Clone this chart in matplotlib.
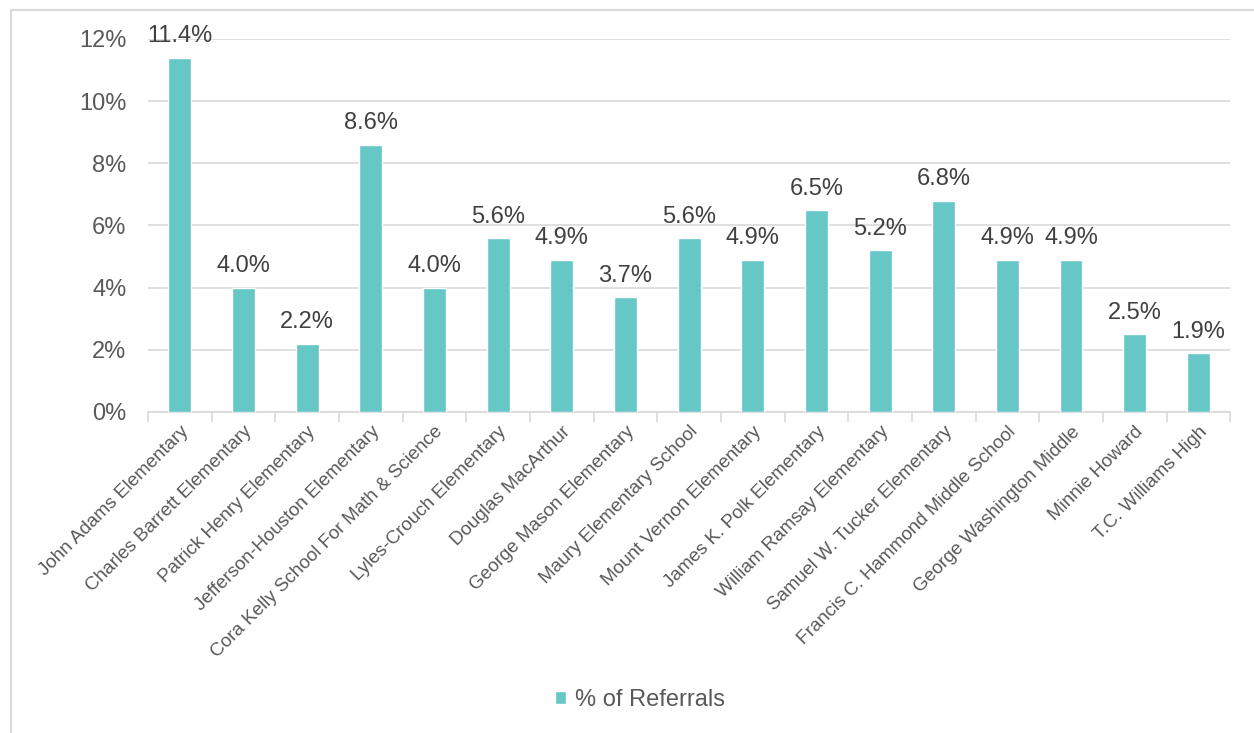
import matplotlib.pyplot as plt
from matplotlib.patches import Rectangle
from matplotlib.ticker import FuncFormatter, FixedLocator

plt.rcParams["font.family"] = ["Liberation Sans", "DejaVu Sans"]

schools = [
    "John Adams Elementary",
    "Charles Barrett Elementary",
    "Patrick Henry Elementary",
    "Jefferson-Houston Elementary",
    "Cora Kelly School For Math & Science",
    "Lyles-Crouch Elementary",
    "Douglas MacArthur",
    "George Mason Elementary",
    "Maury Elementary School",
    "Mount Vernon Elementary",
    "James K. Polk Elementary",
    "William Ramsay Elementary",
    "Samuel W. Tucker Elementary",
    "Francis C. Hammond Middle School",
    "George Washington Middle",
    "Minnie Howard",
    "T.C. Williams High",
]
referrals = [11.4, 4.0, 2.2, 8.6, 4.0, 5.6, 4.9, 3.7, 5.6, 4.9, 6.5, 5.2, 6.8, 4.9, 4.9, 2.5, 1.9]

bar_color = "#66C8C6"
text_color = "#595959"
grid_color = "#D9D9D9"

fig = plt.figure(figsize=(12.54, 7.33), dpi=100)
ax = fig.add_axes([0.118, 0.438, 0.863, 0.509])

x = list(range(len(schools)))
bars = ax.bar(x, referrals, width=0.36, color=bar_color, edgecolor="white",
              linewidth=1.0, zorder=3, label="% of Referrals")

for xi, v in zip(x, referrals):
    ax.text(xi, v + 0.33, f"{v:.1f}%", ha="center", va="bottom",
            fontsize=17, color="#404040", zorder=4)

ax.set_xlim(-0.5, len(schools) - 0.5)
ax.set_ylim(0, 12)
ax.set_yticks(range(0, 13, 2))
ax.yaxis.set_major_formatter(FuncFormatter(lambda v, p: f"{v:.0f}%"))
ax.tick_params(axis="y", length=0, labelsize=17, labelcolor=text_color, pad=15.5)
ax.grid(axis="y", color=grid_color, linewidth=1.2, zorder=0)

ax.set_xticks(x)
ax.set_xticklabels(schools, rotation=45, ha="right", rotation_mode="anchor",
                   fontsize=13.6, color=text_color)
ax.tick_params(axis="x", which="major", length=0, pad=8)
ax.xaxis.set_minor_locator(FixedLocator([i - 0.5 for i in range(len(schools) + 1)]))
ax.tick_params(axis="x", which="minor", length=7, width=1.2, color=grid_color)

for s in ["top", "right", "left"]:
    ax.spines[s].set_visible(False)
ax.spines["bottom"].set_color(grid_color)
ax.spines["bottom"].set_linewidth(1.2)

leg = fig.legend(handles=[bars], labels=["% of Referrals"], loc="center",
                 bbox_to_anchor=(0.5104, 0.045), frameon=False, fontsize=17,
                 handlelength=0.45, handleheight=0.45, handletextpad=0.4)
for t in leg.get_texts():
    t.set_color(text_color)

# chart frame (cropped on right and bottom)
fig.patches.append(Rectangle((11 / 1254, -0.1), 1.2, 1.1 - 10 / 733,
                             transform=fig.transFigure, fill=False,
                             edgecolor=grid_color, linewidth=1.5))

fig.savefig("out.png", dpi=100)
